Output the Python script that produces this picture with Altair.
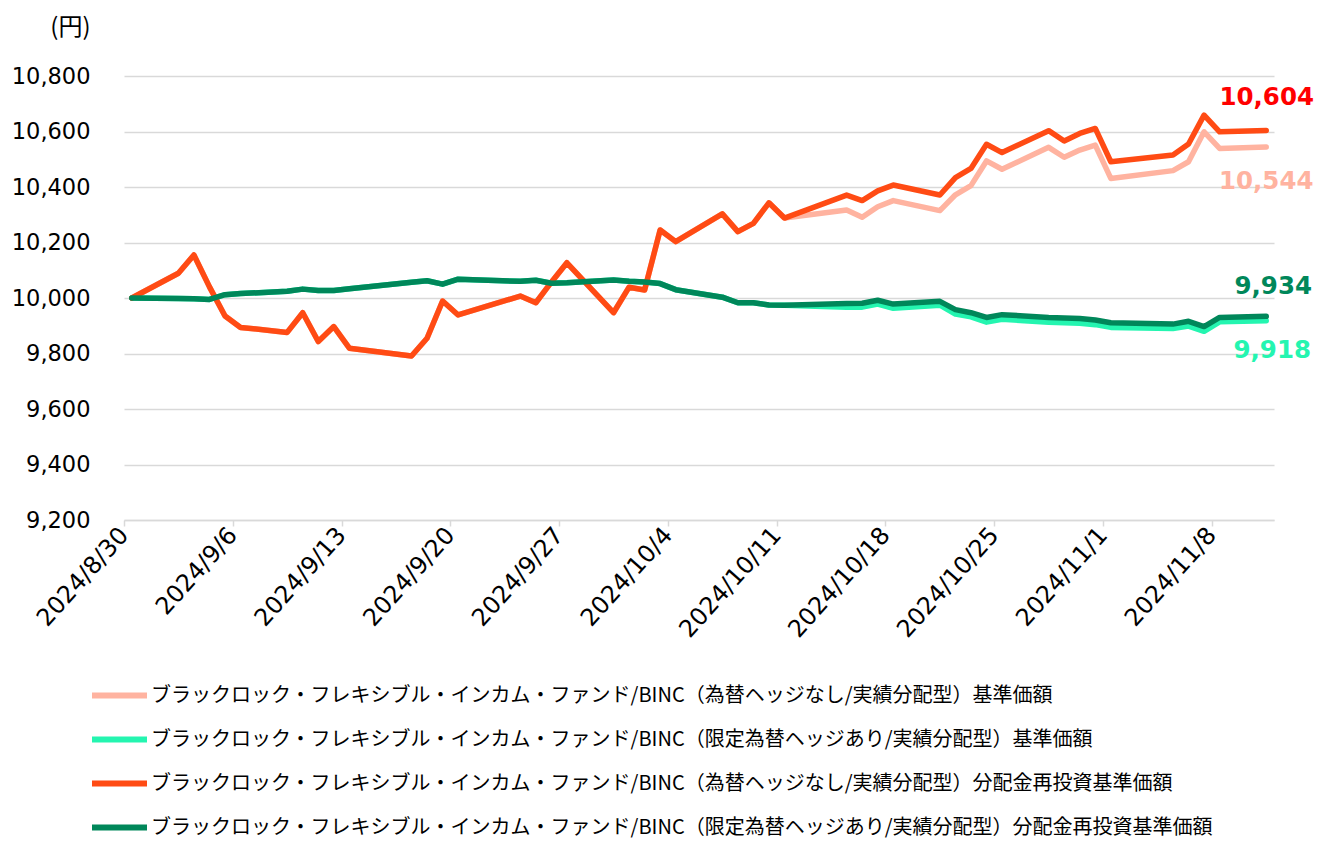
import altair as alt
import pandas as pd

# ---- data ----
dates = [
    "2024-08-30", "2024-09-02", "2024-09-03", "2024-09-04", "2024-09-05", "2024-09-06",
    "2024-09-09", "2024-09-10", "2024-09-11", "2024-09-12", "2024-09-13", "2024-09-17",
    "2024-09-18", "2024-09-19", "2024-09-20", "2024-09-24", "2024-09-25", "2024-09-26",
    "2024-09-27", "2024-09-30", "2024-10-01", "2024-10-02", "2024-10-03", "2024-10-04",
    "2024-10-07", "2024-10-08", "2024-10-09", "2024-10-10", "2024-10-11", "2024-10-15",
    "2024-10-16", "2024-10-17", "2024-10-18", "2024-10-21", "2024-10-22", "2024-10-23",
    "2024-10-24", "2024-10-25", "2024-10-28", "2024-10-29", "2024-10-30", "2024-10-31",
    "2024-11-01", "2024-11-05", "2024-11-06", "2024-11-07", "2024-11-08", "2024-11-11",
]

unhedged_nav = [
    10000, 10089, 10155, 10040, 9935, 9894, 9876, 9947, 9843, 9897, 9819, 9791,
    9855, 9989, 9939, 10007, 9983, 10057, 10127, 9947, 10039, 10029, 10245, 10203,
    10303, 10239, 10269, 10343, 10288, 10317, 10291, 10329, 10351, 10315, 10372, 10405,
    10494, 10464, 10543, 10507, 10533, 10551, 10431, 10459, 10491, 10599, 10539, 10544,
]
hedged_nav = [
    10000, 9998, 9997, 9995, 10012, 10016, 10024, 10032, 10027, 10027, 10033, 10057,
    10062, 10050, 10068, 10060, 10064, 10053, 10055, 10065, 10060, 10058, 10052, 10030,
    10003, 9983, 9983, 9975, 9974, 9967, 9967, 9978, 9963, 9974, 9942, 9932,
    9913, 9923, 9913, 9911, 9909, 9904, 9894, 9890, 9899, 9880, 9914, 9918,
]
unhedged_reinv = [
    10000, 10089, 10155, 10040, 9935, 9894, 9876, 9947, 9843, 9897, 9819, 9791,
    9855, 9989, 9939, 10007, 9983, 10057, 10127, 9947, 10039, 10029, 10245, 10203,
    10303, 10239, 10269, 10343, 10288, 10371, 10351, 10386, 10407, 10371, 10434, 10467,
    10554, 10524, 10603, 10566, 10593, 10611, 10491, 10515, 10555, 10659, 10599, 10604,
]
hedged_reinv = [
    10000, 9998, 9997, 9995, 10012, 10016, 10024, 10032, 10027, 10027, 10033, 10057,
    10062, 10050, 10068, 10060, 10064, 10053, 10055, 10065, 10060, 10058, 10052, 10030,
    10003, 9983, 9983, 9975, 9974, 9980, 9981, 9992, 9978, 9988, 9958, 9947,
    9930, 9940, 9930, 9928, 9926, 9921, 9911, 9906, 9916, 9897, 9930, 9934,
]

series_names = [
    "ブラックロック・フレキシブル・インカム・ファンド/BINC（為替ヘッジなし/実績分配型）基準価額",
    "ブラックロック・フレキシブル・インカム・ファンド/BINC（限定為替ヘッジあり/実績分配型）基準価額",
    "ブラックロック・フレキシブル・インカム・ファンド/BINC（為替ヘッジなし/実績分配型）分配金再投資基準価額",
    "ブラックロック・フレキシブル・インカム・ファンド/BINC（限定為替ヘッジあり/実績分配型）分配金再投資基準価額",
]
series_values = [unhedged_nav, hedged_nav, unhedged_reinv, hedged_reinv]
line_colors = ["#FFB3A0", "#24F5B0", "#FF4B14", "#00875A"]
label_colors = ["#FFB3A0", "#24F5B0", "#FF0000", "#00875A"]

tick_dates = ["2024-08-30", "2024-09-06", "2024-09-13", "2024-09-20", "2024-09-27",
              "2024-10-04", "2024-10-11", "2024-10-18", "2024-10-25", "2024-11-01",
              "2024-11-08"]
y_ticks = [9200, 9400, 9600, 9800, 10000, 10200, 10400, 10600, 10800]

# ---- build table ----
rows = []
for name, vals in zip(series_names, series_values):
    for d, v in zip(dates, vals):
        # points sit in the middle of each day (Excel "between tick marks")
        rows.append({"series": name, "date": d + "T12:00:00Z", "value": v})
df = pd.DataFrame(rows)

last_rows = []
for name, vals in zip(series_names, series_values):
    last_rows.append({"series": name, "date": dates[-1] + "T12:00:00Z", "value": vals[-1]})
last_df = pd.DataFrame(last_rows)


def dt(s):
    y, m, d = (int(p) for p in s.split("-"))
    return alt.DateTime(year=y, month=m, date=d, utc=True)


x_enc = alt.X(
    "date:T",
    scale=alt.Scale(type="utc", domain=[dt("2024-08-30"), dt("2024-11-12")]),
    axis=alt.Axis(
        values=[dt(s) for s in tick_dates],
        labelExpr="utcFormat(datum.value, '%Y/%-m/%-d')",
        labelAngle=-48,
        labelFont="DejaVu Sans",
        labelFontSize=24,
        labelColor="#000000",
        labelOverlap=False,
        labelFlush=False,
        labelPadding=5,
        grid=False,
        domainColor="#D9D9D9",
        domainWidth=1.5,
        tickColor="#D9D9D9",
        tickWidth=1.5,
        tickSize=6,
        title=None,
    ),
)
y_enc = alt.Y(
    "value:Q",
    scale=alt.Scale(domain=[9200, 10800], nice=False, zero=False),
    axis=alt.Axis(
        values=y_ticks,
        labelExpr="format(datum.value, ',')",
        labelFont="DejaVu Sans",
        labelFontSize=22.5,
        labelColor="#000000",
        labelPadding=34,
        ticks=False,
        domain=False,
        gridColor="#D9D9D9",
        gridWidth=1.5,
        title="(円)",
        titleAngle=0,
        titleAlign="right",
        titleBaseline="middle",
        titleX=-34,
        titleY=-49,
        titleFont="Noto Sans CJK JP",
        titleFontSize=24,
        titleFontWeight="normal",
        titleColor="#000000",
    ),
)

color_enc = alt.Color(
    "series:N",
    scale=alt.Scale(domain=series_names, range=line_colors),
    title=None,
    legend=alt.Legend(
        orient="none",
        legendX=-35,
        legendY=589,
        direction="vertical",
        symbolType="stroke",
        symbolSize=3025,
        symbolStrokeWidth=6,
        labelFont="Noto Sans CJK JP",
        labelFontSize=20,
        labelColor="#000000",
        labelLimit=1300,
        labelOffset=1,
        rowPadding=1,
        padding=0,
    ),
)

layers = []
for name in series_names:
    layers.append(
        alt.Chart(df)
        .transform_filter(alt.FieldEqualPredicate(field="series", equal=name))
        .mark_line(strokeWidth=5.5, strokeCap="round", strokeJoin="round")
        .encode(x=x_enc, y=y_enc, color=color_enc)
    )

label_dy = [35, 30, -32, -29]
label_dx = [0, 6, 0.5, 7]
for name, col, dy, dx in zip(series_names, label_colors, label_dy, label_dx):
    layers.append(
        alt.Chart(last_df)
        .transform_filter(alt.FieldEqualPredicate(field="series", equal=name))
        .mark_text(dy=dy, dx=dx, align="center", baseline="middle",
                   font="DejaVu Sans", fontSize=24.5, fontWeight="bold", color=col)
        .encode(x=x_enc, y=y_enc, text=alt.Text("value:Q", format=","))
    )

chart = (
    alt.layer(*layers)
    .properties(
        width=1150,
        height=444,
        padding={"left": 116, "top": 68, "right": 41, "bottom": 320},
        autosize=alt.AutoSizeParams(type="none"),
        background="white",
    )
    .configure_view(stroke=None)
)

chart.save("out.html", embed_options={"renderer": "svg", "actions": False})
